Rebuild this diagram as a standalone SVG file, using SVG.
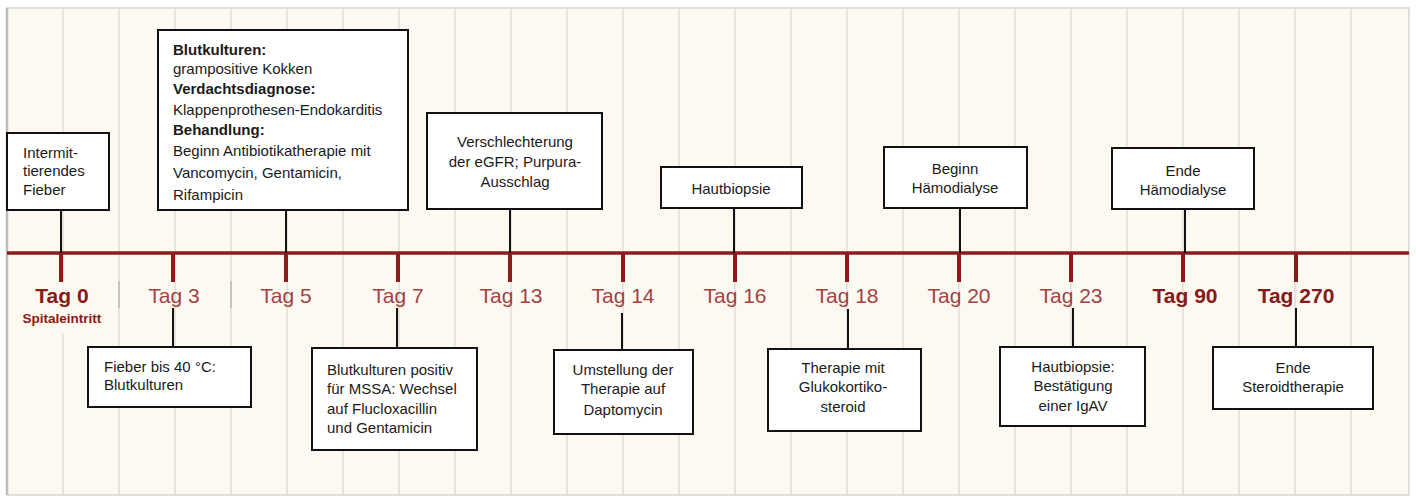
<svg xmlns="http://www.w3.org/2000/svg" width="1416" height="496" viewBox="0 0 1416 496">
<style>
.grid{stroke:#e5e4df;stroke-width:2}
.sep{stroke:#c4c4c0;stroke-width:2}
.axis{stroke:#8b1c1c;stroke-width:3.5}
.tick{stroke:#8b1c1c;stroke-width:4}
.lbl{font-family:"Liberation Sans",Arial,sans-serif;font-size:21px;fill:#a04444;text-anchor:middle}
.lblb{font-family:"Liberation Sans",Arial,sans-serif;font-size:21px;font-weight:bold;fill:#851b1b;text-anchor:middle}
.sub{font-family:"Liberation Sans",Arial,sans-serif;font-size:13.5px;font-weight:bold;fill:#851b1b;text-anchor:middle}
.box{fill:#ffffff;stroke:#111111;stroke-width:2}
.t{font-family:"Liberation Sans",Arial,sans-serif;font-size:15px;fill:#1a1a1a}
.c{text-anchor:middle}
.b{font-weight:bold}
.conn line{stroke:#111111;stroke-width:2}
</style>
<rect x="7" y="8" width="1402" height="487" fill="#fdf8f0" stroke="#d6d6d2" stroke-width="1.5"/>
<line x1="7" y1="8" x2="7" y2="495" stroke="#bdbdbd" stroke-width="2.5"/>
<g id="grid">
<line class="grid" x1="63" y1="9" x2="63" y2="494"/>
<line class="grid" x1="119" y1="9" x2="119" y2="494"/>
<line class="grid" x1="175" y1="9" x2="175" y2="494"/>
<line class="grid" x1="231" y1="9" x2="231" y2="494"/>
<line class="grid" x1="287" y1="9" x2="287" y2="494"/>
<line class="grid" x1="343" y1="9" x2="343" y2="494"/>
<line class="grid" x1="399" y1="9" x2="399" y2="494"/>
<line class="grid" x1="455" y1="9" x2="455" y2="494"/>
<line class="grid" x1="511" y1="9" x2="511" y2="494"/>
<line class="grid" x1="567" y1="9" x2="567" y2="494"/>
<line class="grid" x1="623" y1="9" x2="623" y2="494"/>
<line class="grid" x1="679" y1="9" x2="679" y2="494"/>
<line class="grid" x1="735" y1="9" x2="735" y2="494"/>
<line class="grid" x1="791" y1="9" x2="791" y2="494"/>
<line class="grid" x1="847" y1="9" x2="847" y2="494"/>
<line class="grid" x1="903" y1="9" x2="903" y2="494"/>
<line class="grid" x1="959" y1="9" x2="959" y2="494"/>
<line class="grid" x1="1015" y1="9" x2="1015" y2="494"/>
<line class="grid" x1="1071" y1="9" x2="1071" y2="494"/>
<line class="grid" x1="1127" y1="9" x2="1127" y2="494"/>
<line class="grid" x1="1183" y1="9" x2="1183" y2="494"/>
<line class="grid" x1="1239" y1="9" x2="1239" y2="494"/>
<line class="grid" x1="1295" y1="9" x2="1295" y2="494"/>
<line class="grid" x1="1351" y1="9" x2="1351" y2="494"/>
</g>
<rect x="30" y="283" width="70" height="50" fill="#fdf8f0"/>
<line class="sep" x1="119" y1="281" x2="119" y2="308"/>
<line class="sep" x1="231" y1="281" x2="231" y2="308"/>
<g id="timeline">
<line class="axis" x1="7" y1="253" x2="1409" y2="253"/>
<line class="tick" x1="61" y1="253" x2="61" y2="282"/>
<line class="tick" x1="173" y1="253" x2="173" y2="282"/>
<line class="tick" x1="286" y1="253" x2="286" y2="282"/>
<line class="tick" x1="398" y1="253" x2="398" y2="282"/>
<line class="tick" x1="510" y1="253" x2="510" y2="282"/>
<line class="tick" x1="623" y1="253" x2="623" y2="282"/>
<line class="tick" x1="735" y1="253" x2="735" y2="282"/>
<line class="tick" x1="847" y1="253" x2="847" y2="282"/>
<line class="tick" x1="959" y1="253" x2="959" y2="282"/>
<line class="tick" x1="1071" y1="253" x2="1071" y2="282"/>
<line class="tick" x1="1183" y1="253" x2="1183" y2="282"/>
<line class="tick" x1="1296" y1="253" x2="1296" y2="282"/>
<text class="lblb" x="62" y="303">Tag 0</text>
<text class="sub" x="62" y="323">Spitaleintritt</text>
<text class="lbl" x="174" y="303">Tag 3</text>
<text class="lbl" x="286" y="303">Tag 5</text>
<text class="lbl" x="398" y="303">Tag 7</text>
<text class="lbl" x="511" y="303">Tag 13</text>
<text class="lbl" x="623" y="303">Tag 14</text>
<text class="lbl" x="735" y="303">Tag 16</text>
<text class="lbl" x="847" y="303">Tag 18</text>
<text class="lbl" x="959" y="303">Tag 20</text>
<text class="lbl" x="1071" y="303">Tag 23</text>
<text class="lblb" x="1185" y="303">Tag 90</text>
<text class="lblb" x="1296" y="303">Tag 270</text>
</g>
<g id="connectors" class="conn">
<line x1="61" y1="210" x2="61" y2="253"/>
<line x1="286" y1="210" x2="286" y2="253"/>
<line x1="510" y1="209" x2="510" y2="253"/>
<line x1="734" y1="208" x2="734" y2="253"/>
<line x1="960" y1="208" x2="960" y2="253"/>
<line x1="1185" y1="209" x2="1185" y2="253"/>
<line x1="173" y1="308" x2="173" y2="347"/>
<line x1="397" y1="308" x2="397" y2="348"/>
<line x1="622" y1="313" x2="622" y2="350"/>
<line x1="848" y1="309" x2="848" y2="349"/>
<line x1="1073" y1="308" x2="1073" y2="347"/>
<line x1="1296" y1="308" x2="1296" y2="347"/>
</g>
<g id="n-tag0">
<rect class="box" x="7" y="133" width="102" height="77"/>
<text class="t" x="23" y="158">Intermit-</text>
<text class="t" x="23" y="176">tierendes</text>
<text class="t" x="23" y="195">Fieber</text>
</g>
<g id="n-tag5">
<rect class="box" x="158" y="30" width="250" height="180"/>
<text class="t b" x="173" y="55">Blutkulturen:</text>
<text class="t" x="173" y="74">grampositive Kokken</text>
<text class="t b" x="173" y="94">Verdachtsdiagnose:</text>
<text class="t" x="173" y="115">Klappenprothesen-Endokarditis</text>
<text class="t b" x="173" y="135">Behandlung:</text>
<text class="t" x="173" y="156">Beginn Antibiotikatherapie mit</text>
<text class="t" x="173" y="178">Vancomycin, Gentamicin,</text>
<text class="t" x="173" y="200">Rifampicin</text>
</g>
<g id="n-tag13">
<rect class="box" x="427" y="113" width="175" height="96"/>
<text class="t c" x="515" y="147">Verschlechterung</text>
<text class="t c" x="515" y="167">der eGFR; Purpura-</text>
<text class="t c" x="515" y="187">Ausschlag</text>
</g>
<g id="n-tag16">
<rect class="box" x="661" y="167" width="141" height="41"/>
<text class="t c" x="731" y="194">Hautbiopsie</text>
</g>
<g id="n-tag20">
<rect class="box" x="884" y="147" width="143" height="61"/>
<text class="t c" x="955" y="174">Beginn</text>
<text class="t c" x="955" y="193">Hämodialyse</text>
</g>
<g id="n-tag90">
<rect class="box" x="1112" y="148" width="142" height="61"/>
<text class="t c" x="1183" y="176">Ende</text>
<text class="t c" x="1183" y="195">Hämodialyse</text>
</g>
<g id="n-tag3">
<rect class="box" x="88" y="347" width="163" height="60"/>
<text class="t" x="104" y="372">Fieber bis 40 °C:</text>
<text class="t" x="104" y="390">Blutkulturen</text>
</g>
<g id="n-tag7">
<rect class="box" x="312" y="348" width="165" height="102"/>
<text class="t" x="327" y="375">Blutkulturen positiv</text>
<text class="t" x="327" y="394">für MSSA: Wechsel</text>
<text class="t" x="327" y="414">auf Flucloxacillin</text>
<text class="t" x="327" y="433">und Gentamicin</text>
</g>
<g id="n-tag14">
<rect class="box" x="554" y="350" width="139" height="84"/>
<text class="t c" x="623" y="375">Umstellung der</text>
<text class="t c" x="623" y="394">Therapie auf</text>
<text class="t c" x="623" y="415">Daptomycin</text>
</g>
<g id="n-tag18">
<rect class="box" x="768" y="349" width="153" height="82"/>
<text class="t c" x="843" y="373">Therapie mit</text>
<text class="t c" x="843" y="392">Glukokortiko-</text>
<text class="t c" x="843" y="412">steroid</text>
</g>
<g id="n-tag23">
<rect class="box" x="1000" y="347" width="145" height="79"/>
<text class="t c" x="1073" y="372">Hautbiopsie:</text>
<text class="t c" x="1073" y="391">Bestätigung</text>
<text class="t c" x="1073" y="411">einer IgAV</text>
</g>
<g id="n-tag270">
<rect class="box" x="1213" y="347" width="160" height="62"/>
<text class="t c" x="1293" y="373">Ende</text>
<text class="t c" x="1293" y="392">Steroidtherapie</text>
</g>
</svg>
